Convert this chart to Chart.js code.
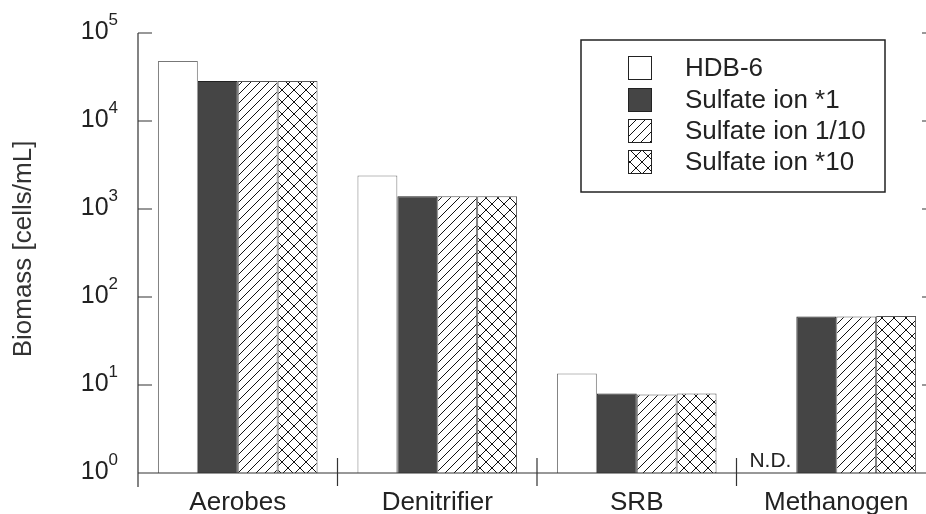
<!DOCTYPE html>
<html>
<head>
<meta charset="utf-8">
<script src="https://cdn.jsdelivr.net/npm/chart.js@4.4.1/dist/chart.umd.min.js"></script>
<style>
  html, body { margin: 0; padding: 0; background: #fff; overflow: hidden; }
  #wrap { width: 940px; height: 514px; }
</style>
</head>
<body>
<div id="wrap"><canvas id="biomassChart" width="940" height="514"></canvas></div>
<script>
// Biomass per microbe group, cells/mL (null = not detected)
const groups = ['Aerobes', 'Denitrifier', 'SRB', 'Methanogen'];
const seriesNames = ['HDB-6', 'Sulfate ion *1', 'Sulfate ion 1/10', 'Sulfate ion *10'];
const hdb6 = [48000, 2400, 13.5, null];
const sulfate1 = [28500, 1400, 8, 60];
const sulfateTenth = [28500, 1400, 7.8, 60];
const sulfateTen = [28500, 1400, 8, 61];
const yTickExponents = [0, 1, 2, 3, 4, 5];

const FONT = '"Liberation Sans", Arial, sans-serif';
const canvas = document.getElementById('biomassChart');
const ctx = canvas.getContext('2d');

// hatch fills for the bars
function makePattern(size, cross) {
  const c = document.createElement('canvas');
  c.width = c.height = size;
  const g = c.getContext('2d');
  g.fillStyle = '#fff';
  g.fillRect(0, 0, size, size);
  g.strokeStyle = '#111';
  g.lineWidth = 1;
  g.beginPath();
  g.moveTo(-1, size + 1); g.lineTo(size + 1, -1);
  g.moveTo(-1, 1); g.lineTo(1, -1);
  g.moveTo(size - 1, size + 1); g.lineTo(size + 1, size - 1);
  if (cross) {
    g.moveTo(-1, -1); g.lineTo(size + 1, size + 1);
    g.moveTo(size - 1, -1); g.lineTo(size + 1, 1);
    g.moveTo(-1, size - 1); g.lineTo(1, size + 1);
  }
  g.stroke();
  return ctx.createPattern(c, 'repeat');
}

const fills = ['#ffffff', '#454545', makePattern(9, false), makePattern(12, true)];
const borders = ['#777', '#222', '#555', '#555'];
const values = [hdb6, sulfate1, sulfateTenth, sulfateTen];

// axes, ticks, tick labels, N.D. mark and legend
const framePlugin = {
  id: 'frame',
  afterDraw(chart) {
    const { ctx, chartArea, scales: { x, y } } = chart;
    const left = chartArea.left, right = chartArea.right, bottom = chartArea.bottom;
    const top = y.getPixelForValue(1e5);
    ctx.save();
    ctx.strokeStyle = '#333';
    ctx.lineWidth = 1.2;
    ctx.beginPath();
    ctx.moveTo(left, top); ctx.lineTo(left, bottom + 14);
    ctx.moveTo(right, top); ctx.lineTo(right, bottom + 14);
    ctx.moveTo(left, bottom); ctx.lineTo(right, bottom);
    // inward ticks on both side axes
    yTickExponents.forEach(e => {
      const py = y.getPixelForValue(Math.pow(10, e));
      ctx.moveTo(left, py); ctx.lineTo(left + 14, py);
      ctx.moveTo(right, py); ctx.lineTo(right - 14, py);
    });
    // category separators
    const half = (x.getPixelForValue(1) - x.getPixelForValue(0)) / 2;
    for (let i = 0; i < groups.length - 1; i++) {
      const px = x.getPixelForValue(i) + half;
      ctx.moveTo(px, bottom - 15); ctx.lineTo(px, bottom + 13);
    }
    ctx.stroke();

    // y tick labels as powers of ten
    ctx.fillStyle = '#222';
    ctx.textBaseline = 'middle';
    yTickExponents.forEach(e => {
      const py = y.getPixelForValue(Math.pow(10, e));
      ctx.font = '17px ' + FONT;
      ctx.textAlign = 'left';
      const ew = ctx.measureText(String(e)).width;
      ctx.fillText(String(e), 118 - ew, py - 13);
      ctx.font = '25px ' + FONT;
      ctx.textAlign = 'right';
      ctx.fillText('10', 118 - ew, py - 1);
    });

    // y title
    ctx.save();
    ctx.translate(24, 249);
    ctx.rotate(-Math.PI / 2);
    ctx.font = '26px ' + FONT;
    ctx.textAlign = 'center';
    ctx.textBaseline = 'middle';
    ctx.fillStyle = '#333';
    ctx.fillText('Biomass [cells/mL]', 0, 0);
    ctx.restore();

    // N.D. where HDB-6 has no value
    ctx.font = '21px ' + FONT;
    ctx.textAlign = 'center';
    ctx.textBaseline = 'alphabetic';
    ctx.fillStyle = '#222';
    hdb6.forEach((v, i) => {
      if (v === null) {
        const b = chart.getDatasetMeta(1).data[i];
        ctx.fillText('N.D.', b.x - b.width - 6, bottom - 6);
      }
    });

    // legend box
    ctx.strokeStyle = '#222';
    ctx.lineWidth = 1.5;
    ctx.strokeRect(581, 40, 304, 152);
    const rows = [68, 100, 131, 162];
    seriesNames.forEach((name, i) => {
      ctx.fillStyle = fills[i];
      ctx.fillRect(628, rows[i] - 12, 24, 24);
      ctx.lineWidth = 1;
      ctx.strokeStyle = '#222';
      ctx.strokeRect(628.5, rows[i] - 11.5, 23, 23);
      ctx.fillStyle = '#222';
      ctx.font = '26px ' + FONT;
      ctx.textAlign = 'left';
      ctx.textBaseline = 'middle';
      ctx.fillText(name, 685, rows[i] + 1);
    });
    ctx.restore();
  }
};

new Chart(ctx, {
  type: 'bar',
  data: {
    labels: groups,
    datasets: seriesNames.map((name, i) => ({
      label: name,
      data: values[i],
      backgroundColor: fills[i],
      borderColor: borders[i],
      borderWidth: 1,
      categoryPercentage: 0.8,
      barPercentage: 1.0
    }))
  },
  options: {
    responsive: false,
    animation: false,
    layout: { padding: { top: 33, right: 4, left: 0, bottom: 0 } },
    plugins: {
      legend: { display: false },
      tooltip: { enabled: false }
    },
    scales: {
      x: {
        grid: { display: false },
        border: { display: false },
        ticks: { color: '#222', font: { family: FONT, size: 26 }, padding: 6 },
        afterFit: (s) => { s.height = 41; }
      },
      y: {
        type: 'logarithmic',
        min: 1,
        max: 100000,
        grid: { display: false },
        border: { display: false },
        ticks: { display: false },
        afterFit: (s) => { s.width = 138; }
      }
    }
  },
  plugins: [framePlugin]
});
</script>
</body>
</html>
